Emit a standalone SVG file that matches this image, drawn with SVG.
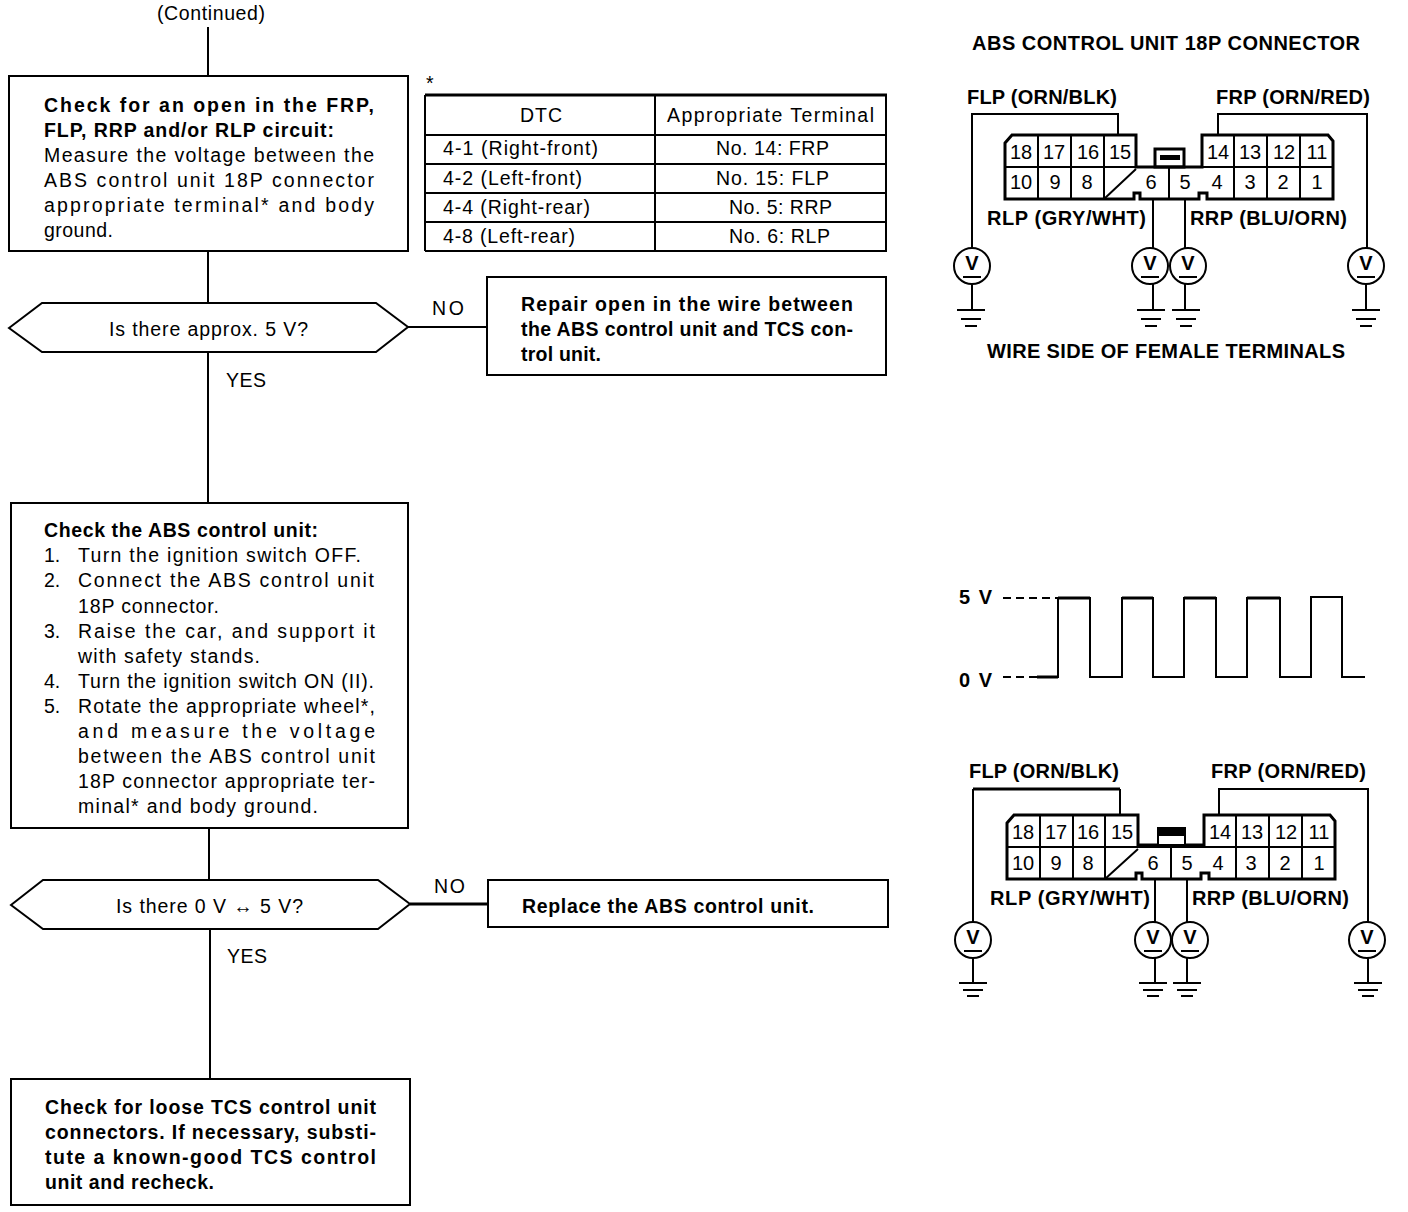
<svg xmlns="http://www.w3.org/2000/svg" width="1408" height="1212" viewBox="0 0 1408 1212">
<defs>
<style>
text{font-family:"Liberation Sans",Arial,sans-serif;fill:#000}
.t{font-size:19.5px}
.b{font-size:19.5px;font-weight:bold}
.h{font-size:20px;font-weight:bold}
.n{font-size:20px;text-anchor:middle}
.v{font-size:20px;font-weight:bold;text-anchor:middle}
.l{fill:none;stroke:#000;stroke-width:2}
.k{fill:none;stroke:#000;stroke-width:3}
.box{fill:#fff;stroke:#000;stroke-width:2}
</style>
<g id="vm">
<circle cx="0" cy="0" r="18" fill="#fff" stroke="#000" stroke-width="2"/>
<text class="v" x="0" y="4">V</text>
<line x1="-9" y1="11" x2="9" y2="11" stroke="#000" stroke-width="2"/>
</g>
<g id="gnd">
<line x1="-14" y1="0" x2="14" y2="0" stroke="#000" stroke-width="2"/>
<line x1="-10" y1="9" x2="10" y2="9" stroke="#000" stroke-width="2"/>
<line x1="-6" y1="16" x2="6" y2="16" stroke="#000" stroke-width="2"/>
</g>
<g id="gnd2">
<line x1="-14" y1="0" x2="14" y2="0" stroke="#000" stroke-width="2"/>
<line x1="-10" y1="7" x2="10" y2="7" stroke="#000" stroke-width="2"/>
<line x1="-6" y1="13" x2="6" y2="13" stroke="#000" stroke-width="2"/>
</g>
</defs>
<rect width="1408" height="1212" fill="#fff"/>

<g id="connectors">
<path class="l" d="M208 27V76M208 251V303M208 352V503M408 327H487M209 828V880M210 929V1079"/>
<path class="k" d="M410 904H488"/>
</g>

<text class="t" x="157" y="20" textLength="108">(Continued)</text>

<g id="check-open">
<rect class="box" x="9" y="76" width="399" height="175"/>
<text class="b" x="44" y="112" textLength="330">Check for an open in the FRP,</text>
<text class="b" x="44" y="137" textLength="290">FLP, RRP and/or RLP circuit:</text>
<text class="t" x="44" y="162" textLength="330">Measure the voltage between the</text>
<text class="t" x="44" y="187" textLength="330">ABS control unit 18P connector</text>
<text class="t" x="44" y="212" textLength="330">appropriate terminal* and body</text>
<text class="t" x="44" y="237" textLength="69">ground.</text>
</g>

<g id="dtc-table">
<text class="t" x="426" y="90">*</text>
<path class="k" d="M425 95H887"/>
<path class="l" d="M425 135H887M425 164H887M425 193H887M425 222H887M425 251H887M425 95V251M655 95V251M886 95V251"/>
<text class="t" x="520" y="122" textLength="42">DTC</text>
<text class="t" x="667" y="122" textLength="207">Appropriate Terminal</text>
<text class="t" x="443" y="155" textLength="155">4-1 (Right-front)</text>
<text class="t" x="716" y="155" textLength="113">No. 14: FRP</text>
<text class="t" x="443" y="185" textLength="139">4-2 (Left-front)</text>
<text class="t" x="716" y="185" textLength="113">No. 15: FLP</text>
<text class="t" x="443" y="214" textLength="147">4-4 (Right-rear)</text>
<text class="t" x="729" y="214" textLength="103">No. 5: RRP</text>
<text class="t" x="443" y="243" textLength="132">4-8 (Left-rear)</text>
<text class="t" x="729" y="243" textLength="101">No. 6: RLP</text>
</g>

<g id="decision-5v">
<path class="box" d="M9 328L42 303H376L408 327L376 352H42Z"/>
<text class="t" x="109" y="336" textLength="199">Is there approx. 5 V?</text>
<text class="t" x="432" y="315" textLength="32">NO</text>
<text class="t" x="226" y="387" textLength="40">YES</text>
</g>

<g id="repair-open">
<rect class="box" x="487" y="277" width="399" height="98"/>
<text class="b" x="521" y="311" textLength="332">Repair open in the wire between</text>
<text class="b" x="521" y="336" textLength="332">the ABS control unit and TCS con-</text>
<text class="b" x="521" y="361" textLength="80">trol unit.</text>
</g>

<g id="check-abs">
<rect class="box" x="11" y="503" width="397" height="325"/>
<text class="b" x="44" y="537" textLength="274">Check the ABS control unit:</text>
<text class="t" x="44" y="562">1.</text>
<text class="t" x="78" y="562" textLength="283">Turn the ignition switch OFF.</text>
<text class="t" x="44" y="587">2.</text>
<text class="t" x="78" y="587" textLength="296">Connect the ABS control unit</text>
<text class="t" x="78" y="613" textLength="141">18P connector.</text>
<text class="t" x="44" y="638">3.</text>
<text class="t" x="78" y="638" textLength="297">Raise the car, and support it</text>
<text class="t" x="78" y="663" textLength="182">with safety stands.</text>
<text class="t" x="44" y="688">4.</text>
<text class="t" x="78" y="688" textLength="296">Turn the ignition switch ON (II).</text>
<text class="t" x="44" y="713">5.</text>
<text class="t" x="78" y="713" textLength="297">Rotate the appropriate wheel*,</text>
<text class="t" x="78" y="738" textLength="297">and measure the voltage</text>
<text class="t" x="78" y="763" textLength="297">between the ABS control unit</text>
<text class="t" x="78" y="788" textLength="297">18P connector appropriate ter-</text>
<text class="t" x="78" y="813" textLength="240">minal* and body ground.</text>
</g>

<g id="decision-0-5v">
<path class="box" d="M11 905L43 880H378L410 904L378 929H43Z"/>
<text class="t" x="116" y="913" textLength="187">Is there 0 V ↔ 5 V?</text>
<text class="t" x="434" y="893" textLength="31">NO</text>
<text class="t" x="227" y="963" textLength="40">YES</text>
</g>

<g id="replace-abs">
<rect class="box" x="488" y="880" width="400" height="47"/>
<text class="b" x="522" y="913" textLength="292">Replace the ABS control unit.</text>
</g>

<g id="check-tcs">
<rect class="box" x="11" y="1079" width="399" height="126"/>
<text class="b" x="45" y="1114" textLength="331">Check for loose TCS control unit</text>
<text class="b" x="45" y="1139" textLength="331">connectors. If necessary, substi-</text>
<text class="b" x="45" y="1164" textLength="331">tute a known-good TCS control</text>
<text class="b" x="45" y="1189" textLength="169">unit and recheck.</text>
</g>

<g id="connector-top">
<text class="h" x="972" y="50" textLength="388">ABS CONTROL UNIT 18P CONNECTOR</text>
<text class="h" x="967" y="104" textLength="150">FLP (ORN/BLK)</text>
<text class="h" x="1216" y="104" textLength="154">FRP (ORN/RED)</text>
<text class="h" x="987" y="225" textLength="159">RLP (GRY/WHT)</text>
<text class="h" x="1190" y="225" textLength="157">RRP (BLU/ORN)</text>
<text class="h" x="987" y="358" textLength="358">WIRE SIDE OF FEMALE TERMINALS</text>
<path class="k" d="M1005 143L1012 135H1136V167H1202V135H1328L1333 141V199H1207V193H1199V199H1140V193H1134V199H1005Z"/>
<path class="l" d="M1005 167H1333M1038 135V199M1071 135V199M1104 135V199M1169 167V199M1234 135V199M1267 135V199M1300 135V199M1104 199L1136 169"/>
<rect class="k" x="1155" y="149" width="29" height="18"/>
<rect x="1160" y="155" width="20" height="5" fill="#000"/>
<path class="l" d="M972 248V114H1118V135M1218 135V114H1367V248M1153 199V248M1185 199V248M972 284V310M1153 284V310M1185 284V310M1366 284V310"/>
<use href="#vm" x="972" y="266"/><use href="#vm" x="1150" y="266"/><use href="#vm" x="1188" y="266"/><use href="#vm" x="1366" y="266"/>
<use href="#gnd" x="971" y="310"/><use href="#gnd" x="1151" y="310"/><use href="#gnd" x="1186" y="310"/><use href="#gnd" x="1366" y="310"/>
<text class="n" x="1021" y="159">18</text><text class="n" x="1054" y="159">17</text><text class="n" x="1088" y="159">16</text><text class="n" x="1120" y="159">15</text>
<text class="n" x="1218" y="159">14</text><text class="n" x="1250" y="159">13</text><text class="n" x="1284" y="159">12</text><text class="n" x="1317" y="159">11</text>
<text class="n" x="1021" y="189">10</text><text class="n" x="1055" y="189">9</text><text class="n" x="1087" y="189">8</text><text class="n" x="1151" y="189">6</text><text class="n" x="1185" y="189">5</text>
<text class="n" x="1217" y="189">4</text><text class="n" x="1250" y="189">3</text><text class="n" x="1283" y="189">2</text><text class="n" x="1317" y="189">1</text>
</g>

<g id="waveform">
<text class="h" x="959" y="604" textLength="33">5 V</text>
<text class="h" x="959" y="687" textLength="33">0 V</text>
<path fill="none" stroke="#000" stroke-width="2" stroke-dasharray="8 5" d="M1003 598H1058M1003 677H1037"/>
<path class="l" d="M1037 677H1058V598H1090V677H1122V598H1153V677H1184V598H1216V677H1247V598H1280V677H1311V597H1342V677H1365"/>
<path class="k" d="M1037 677H1058M1058 598H1090M1122 598H1153M1184 598H1216M1247 598H1280"/>
</g>

<g id="connector-bottom">
<text class="h" x="969" y="778" textLength="150">FLP (ORN/BLK)</text>
<text class="h" x="1211" y="778" textLength="155">FRP (ORN/RED)</text>
<text class="h" x="990" y="905" textLength="160">RLP (GRY/WHT)</text>
<text class="h" x="1192" y="905" textLength="157">RRP (BLU/ORN)</text>
<path class="k" d="M1007 823L1014 815H1138V845H1204V815H1330L1335 821V879H1209V873H1201V879H1142V873H1136V879H1007Z"/>
<path class="l" d="M1007 847H1335M1040 815V879M1073 815V879M1105 815V879M1171 847V879M1236 815V879M1269 815V879M1302 815V879M1105 879L1138 849"/>
<rect x="1158" y="828" width="27" height="17" fill="#fff" stroke="#000" stroke-width="2"/>
<rect x="1158" y="828" width="27" height="8" fill="#000"/>
<path class="k" d="M973 789H1120"/>
<path class="l" d="M973 922V789M1120 789V815M1219 815V789H1368V922M1155 879V922M1187 879V922M973 958V983M1155 958V983M1187 958V983M1368 958V983"/>
<use href="#vm" x="973" y="940"/><use href="#vm" x="1153" y="940"/><use href="#vm" x="1190" y="940"/><use href="#vm" x="1367" y="940"/>
<use href="#gnd2" x="973" y="983"/><use href="#gnd2" x="1153" y="983"/><use href="#gnd2" x="1187" y="983"/><use href="#gnd2" x="1368" y="983"/>
<text class="n" x="1023" y="839">18</text><text class="n" x="1056" y="839">17</text><text class="n" x="1088" y="839">16</text><text class="n" x="1122" y="839">15</text>
<text class="n" x="1220" y="839">14</text><text class="n" x="1252" y="839">13</text><text class="n" x="1286" y="839">12</text><text class="n" x="1319" y="839">11</text>
<text class="n" x="1023" y="870">10</text><text class="n" x="1056" y="870">9</text><text class="n" x="1088" y="870">8</text><text class="n" x="1153" y="870">6</text><text class="n" x="1187" y="870">5</text>
<text class="n" x="1218" y="870">4</text><text class="n" x="1251" y="870">3</text><text class="n" x="1285" y="870">2</text><text class="n" x="1319" y="870">1</text>
</g>
</svg>
